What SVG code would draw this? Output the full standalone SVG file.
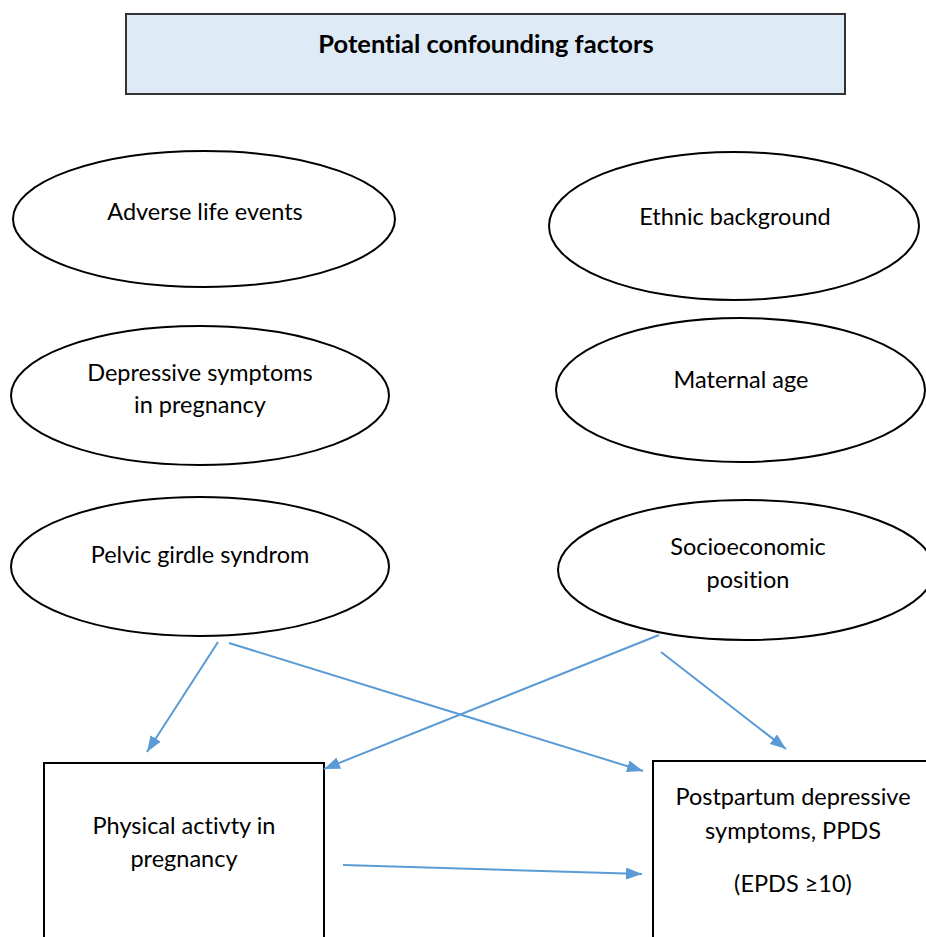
<svg xmlns="http://www.w3.org/2000/svg" width="926" height="937" viewBox="0 0 926 937">
<defs>
<style>
.t{font-family:Lato,"Open Sans","Liberation Sans",sans-serif;font-size:23.5px;fill:#000;text-anchor:middle;font-variant-ligatures:none;font-feature-settings:"liga" 0}
.b{font-weight:bold;font-size:25.5px}
.e{fill:#fff;stroke:#000;stroke-width:2}
.r{fill:#fff;stroke:#000;stroke-width:2}
.c{stroke:#5B9BD5;stroke-width:2;fill:none;marker-end:url(#ah)}
</style>
<marker id="ah" viewBox="0 0 16 12" refX="16" refY="6" markerWidth="16" markerHeight="12" markerUnits="userSpaceOnUse" orient="auto">
<path d="M0,0 L16,6 L0,12 z" fill="#5B9BD5"/>
</marker>
</defs>
<rect width="926" height="937" fill="#fff"/>
<g id="title">
<rect x="126" y="14" width="719" height="80" fill="#DEEAF6" stroke="#333" stroke-width="2"/>
<text class="t b" x="486" y="53">Potential confounding factors</text>
</g>
<g id="adverse">
<ellipse class="e" cx="204" cy="219" rx="191" ry="68"/>
<text class="t" x="205" y="220">Adverse life events</text>
</g>
<g id="ethnic">
<ellipse class="e" cx="734" cy="226" rx="185" ry="74"/>
<text class="t" x="735" y="225">Ethnic background</text>
</g>
<g id="depressive">
<ellipse class="e" cx="200" cy="395.5" rx="189" ry="69.5"/>
<text class="t" x="200" y="381">Depressive symptoms</text>
<text class="t" x="200" y="413">in pregnancy</text>
</g>
<g id="maternal">
<ellipse class="e" cx="740.5" cy="390" rx="184.5" ry="72"/>
<text class="t" x="741" y="388">Maternal age</text>
</g>
<g id="pelvic">
<ellipse class="e" cx="200" cy="566.5" rx="189" ry="69.5"/>
<text class="t" x="200" y="563">Pelvic girdle syndrom</text>
</g>
<g id="socio">
<ellipse class="e" cx="746" cy="570" rx="188" ry="70"/>
<text class="t" x="748" y="555">Socioeconomic</text>
<text class="t" x="748" y="588">position</text>
</g>
<g id="physical">
<rect class="r" x="44" y="763" width="280" height="190"/>
<text class="t" x="184" y="834">Physical activty in</text>
<text class="t" x="184" y="867">pregnancy</text>
</g>
<g id="ppds">
<rect class="r" x="653" y="761" width="300" height="190"/>
<text class="t" x="793" y="805">Postpartum depressive</text>
<text class="t" x="793" y="839">symptoms, PPDS</text>
<text class="t" x="793" y="892">(EPDS ≥10)</text>
</g>
<g id="connectors">
<line class="c" x1="218" y1="642" x2="147" y2="752"/>
<line class="c" x1="229" y1="643" x2="643" y2="771"/>
<line class="c" x1="659" y1="635" x2="324" y2="769"/>
<line class="c" x1="661" y1="652" x2="786" y2="749"/>
<line class="c" x1="343" y1="865" x2="642" y2="874"/>
</g>
</svg>
